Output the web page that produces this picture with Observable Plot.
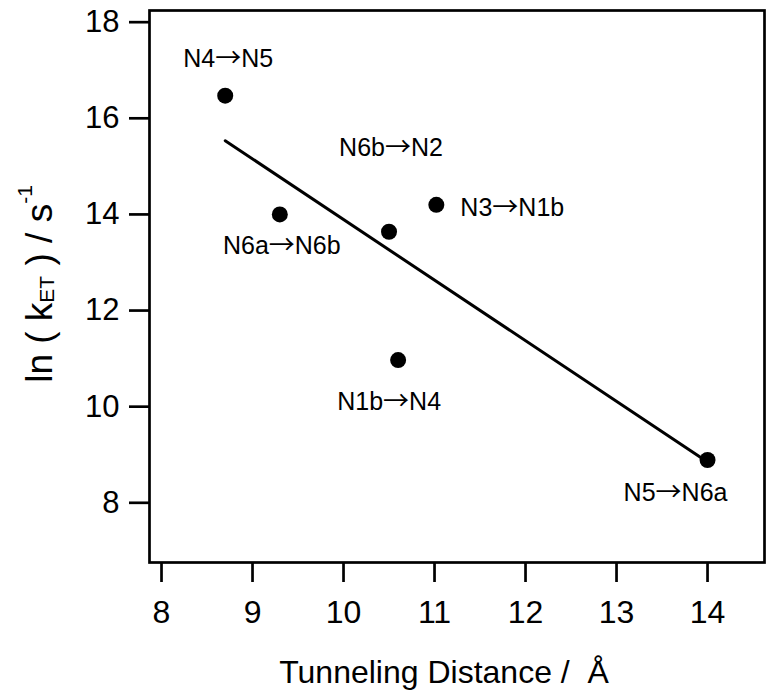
<!DOCTYPE html>
<html>
<head>
<meta charset="utf-8">
<script src="https://cdn.jsdelivr.net/npm/d3@7"></script>
<script src="https://cdn.jsdelivr.net/npm/@observablehq/plot@0.6"></script>
<style>
  html, body { margin: 0; padding: 0; background: #fff; }
  #chart svg { display: block; }
</style>
</head>
<body>
<div id="chart"></div>
<script>
// ---- data ----
const transfers = ["N4→N5", "N6a→N6b", "N6b→N2", "N3→N1b", "N1b→N4", "N5→N6a"];
const distance  = [8.70, 9.30, 10.50, 11.02, 10.60, 14.00];
const lnK       = [16.47, 14.00, 13.64, 14.20, 10.97, 8.89];
const xTicks = [8, 9, 10, 11, 12, 13, 14];
const yTicks = [8, 10, 12, 14, 16, 18];

// label placement (pixel offsets from each point) – styling only
const labelPlacement = {
  "N4→N5":   {dx: 3,   dy: -37, anchor: "middle"},
  "N6a→N6b": {dx: 2,   dy: 32,  anchor: "middle"},
  "N6b→N2":  {dx: 2,   dy: -84, anchor: "middle"},
  "N3→N1b":  {dx: 24,  dy: 3,   anchor: "start"},
  "N1b→N4":  {dx: -9,  dy: 42,  anchor: "middle"},
  "N5→N6a":  {dx: -32, dy: 33,  anchor: "middle"}
};

const points = transfers.map((t, i) => ({transfer: t, distance: distance[i], lnK: lnK[i]}));

const FONT = "'Liberation Sans', Arial, Helvetica, sans-serif";

const labelMarks = points.map(p => {
  const pl = labelPlacement[p.transfer];
  return Plot.text([p], {
    x: "distance", y: "lnK", text: "transfer",
    dx: pl.dx, dy: pl.dy, textAnchor: pl.anchor,
    fontSize: 25, fill: "black", className: "ptlabel"
  });
});

const chart = Plot.plot({
  width: 774,
  height: 700,
  marginLeft: 149,
  marginRight: 10,
  marginTop: 10,
  marginBottom: 138,
  style: {fontFamily: FONT, color: "black", background: "white", overflow: "visible"},
  x: {domain: [7.868, 14.626]},
  y: {domain: [6.758, 18.243]},
  marks: [
    Plot.axisX({ticks: xTicks, tickSize: 20, tickPadding: 18, fontSize: 32, strokeWidth: 2.7, label: null, tickFormat: d => String(d)}),
    Plot.axisY({ticks: yTicks, tickSize: 20, tickPadding: 10, fontSize: 31, strokeWidth: 2.7, label: null, tickFormat: d => String(d)}),
    Plot.linearRegressionY(points, {x: "distance", y: "lnK", ci: 0, stroke: "black", strokeWidth: 3}),
    Plot.dot(points, {x: "distance", y: "lnK", r: 8, fill: "black", stroke: "none"}),
    ...labelMarks,
    Plot.frame({stroke: "black", strokeWidth: 2.7})
  ]
});

document.getElementById("chart").appendChild(chart);

const svg = d3.select(chart);

// render the arrow glyph with a font whose arrow is long and slender
svg.selectAll("g.ptlabel text").each(function () {
  const t = d3.select(this);
  const s = t.text();
  const parts = s.split("→");
  if (parts.length !== 2) return;
  t.text(null);
  t.append("tspan").text(parts[0]);
  t.append("tspan").attr("font-family", "'Noto Sans CJK JP', 'DejaVu Sans', sans-serif").attr("font-size", 26).text("→");
  t.append("tspan").text(parts[1]);
});

// axis titles
svg.append("text")
  .attr("x", 444).attr("y", 683)
  .attr("text-anchor", "middle")
  .attr("font-size", 32)
  .attr("font-family", FONT)
  .attr("fill", "black")
  .style("white-space", "pre")
  .text("Tunneling Distance /  Å");

const yl = svg.append("text")
  .attr("transform", "translate(52,284) rotate(-90)")
  .attr("text-anchor", "middle")
  .attr("font-size", 37)
  .attr("font-family", FONT)
  .attr("fill", "black")
  .style("white-space", "pre");
yl.append("tspan").text("ln ( k");
yl.append("tspan").attr("font-size", 21).attr("dy", 2).text("ET");
yl.append("tspan").attr("dy", -2).text(" ) / s");
yl.append("tspan").attr("font-size", 21).attr("dy", -20).text("-1");
</script>
</body>
</html>
